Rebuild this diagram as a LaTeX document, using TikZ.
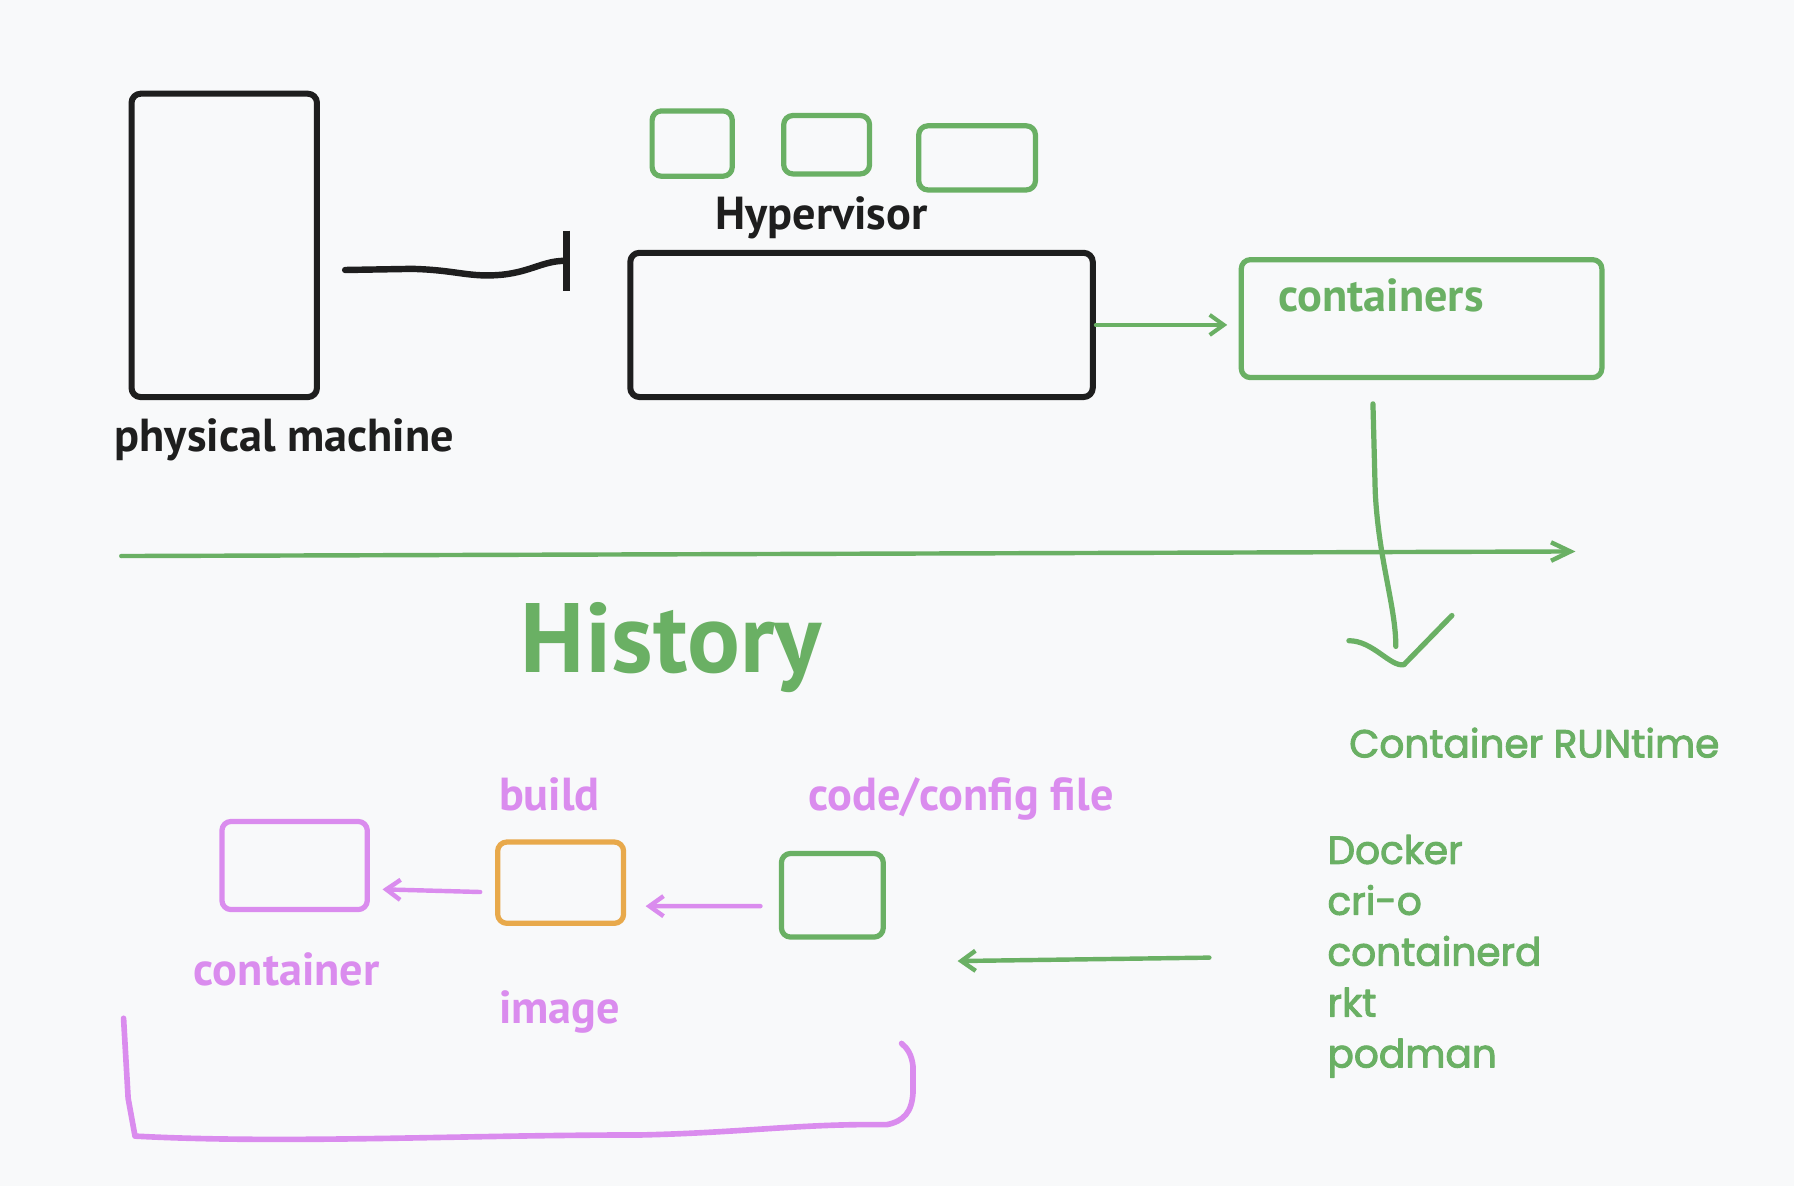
\documentclass[tikz,border=0pt]{standalone}
\usepackage{fontspec}
\usepackage{tikz}
\usepackage{xcolor}
\usetikzlibrary{arrows.meta}
\setmainfont{PT Sans}
\newfontfamily\runfont{Poppins}[FakeBold=2.5]
\definecolor{paper}{RGB}{248,249,250}
\definecolor{ink}{RGB}{30,30,30}
\definecolor{leaf}{RGB}{106,176,100}
\definecolor{lilac}{RGB}{218,140,238}
\definecolor{amber}{RGB}{232,169,75}

\begin{document}
\begin{tikzpicture}[x=0.01cm, y=-0.01cm, line width=1.3pt, line cap=round, line join=round,
    box/.style = {draw, rounded corners=0.08cm, inner sep=0pt},
    hand/.style = {inner sep=0pt, anchor=base west, font=\bfseries\fontsize{11.5}{14}\selectfont},
    run/.style = {inner sep=0pt, anchor=base west, text=leaf, font=\runfont\fontsize{9.7}{12}\selectfont},
    tip/.style = {-{Straight Barb[length=3.5pt, width=5pt]}}]
    \fill[paper] (0,0) rectangle (1568,1037);

    % machine and hypervisor
    \node[box, ink, line width=1.5pt, minimum width=1.62cm, minimum height=2.65cm] (pm) at (196,214.5) {};
    \node[hand, ink] (pmlabel) at (98,395) {physical machine};
    \node[box, ink, line width=1.5pt, minimum width=4.04cm, minimum height=1.26cm] (hyp) at (753,284) {};
    \node[hand, ink] (hyplabel) at (623,201) {Hypervisor};
    \node[box, leaf, minimum width=0.70cm, minimum height=0.57cm] (vmA) at (605,125.5) {};
    \node[box, leaf, minimum width=0.75cm, minimum height=0.51cm] (vmB) at (722.5,126.5) {};
    \node[box, leaf, minimum width=1.02cm, minimum height=0.56cm] (vmC) at (854,138) {};
    \node[box, leaf, minimum width=3.15cm, minimum height=1.03cm] (ctr) at (1242.5,278.5) {};
    \node[hand, leaf] (ctrlabel) at (1115,272) {containers};

    \coordinate (barEnd) at (498,228);
    \draw[ink, line width=1.6pt, -{Bar[width=15pt]}] ([shift={(22,21.5)}]pm.east) -- (360,235)
        .. controls (400,236) and (410,243) .. (440,240) .. controls (465,237) and (475,228) .. (barEnd);
    \draw[leaf, line width=1pt, tip, shorten >= 0.1cm] (hyp.east) -- (hyp.east -| ctr.west);

    % time line
    \coordinate (lineStart) at (106,486);
    \coordinate (lineEnd) at (1377,482);
    \draw[leaf, line width=1.1pt, -{Straight Barb[length=4.8pt, width=4.6pt]}] (lineStart) -- (lineEnd);
    \node[hand, leaf, font=\bfseries\fontsize{24.5}{29}\selectfont] (history) at (453,588) {History};

    % runtimes
    \coordinate (rtTop) at (1200,353);
    \coordinate (rtEnd) at (1220,565);
    \draw[leaf] (rtTop) -- (1202,430) .. controls (1205,490) and (1220,530) .. (rtEnd);
    \draw[leaf] (1179,560) .. controls (1200,560) and (1215,583) .. (1227,581) -- (1269,538);
    \node[run] (rtlabel) at (1177,662) {Container RUNtime};
    \foreach \name [count=\i from 0] in {Docker, cri-o, containerd, rkt, podman}
        \node[run] (rt\i) at (1158,755+44.5*\i) {\name};
    \coordinate (listOut) at (1057,837);
    \coordinate (listIn) at (837,840);
    \draw[leaf, line width=1.1pt, tip] (listOut) -- (listIn);

    % build chain
    \node[box, lilac, minimum width=1.27cm, minimum height=0.77cm] (ctnr) at (257.5,756.5) {};
    \node[box, amber, minimum width=1.10cm, minimum height=0.71cm] (img) at (490,771.5) {};
    \node[box, leaf, minimum width=0.89cm, minimum height=0.73cm] (code) at (727.5,782.5) {};
    \node[hand, lilac] (buildlabel) at (434,708) {build};
    \node[hand, lilac] (codelabel) at (704,708) {code/config file};
    \node[hand, lilac] (ctnrlabel) at (167,861) {container};
    \node[hand, lilac] (imglabel) at (434,895) {image};
    \draw[lilac, line width=1.1pt, tip, shorten <= 0.16cm, shorten >= 0.17cm] ([yshift=-0.095cm]code.west) -- ([yshift=-0.205cm]img.east);
    \draw[lilac, line width=1.1pt, tip, shorten <= 0.13cm, shorten >= 0.11cm] ([yshift=-0.085cm]img.west) -- ([yshift=-0.205cm]ctnr.east);
    \draw[lilac, line width=1.4pt] (108,890) -- (112,960) -- (118,993)
        .. controls (250,1000) and (400,992) .. (560,992) .. controls (650,990) and (700,982) .. (775,983)
        .. controls (790,980) and (797,972) .. (798,955) -- (798,932) .. controls (797,922) and (793,916) .. (788,912);
\end{tikzpicture}
\end{document}
